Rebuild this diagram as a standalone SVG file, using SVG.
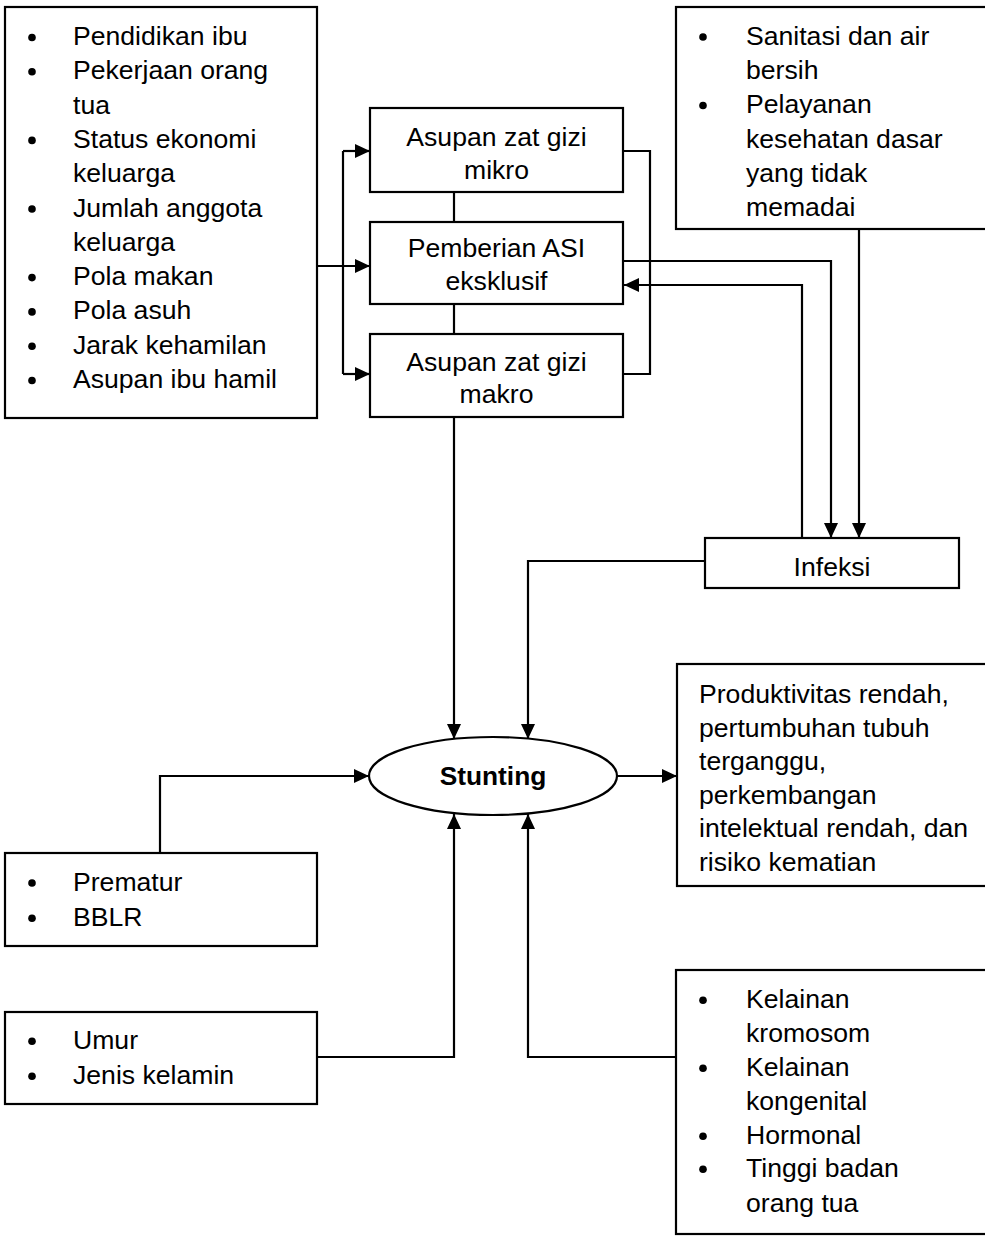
<svg xmlns="http://www.w3.org/2000/svg" width="985" height="1236" viewBox="0 0 985 1236">
<style>
.box{fill:#fff;stroke:#000;stroke-width:2.2}
.t{font-family:"Liberation Sans",Arial,sans-serif;font-size:26.6px;fill:#000}
.c{text-anchor:middle}
.b{font-weight:bold;font-size:26.3px}
.con{fill:none;stroke:#000;stroke-width:2.2}
.dot{fill:#000}
</style>
<defs>
<marker id="arr" viewBox="0 0 15 14" refX="15" refY="7" markerWidth="15" markerHeight="14" markerUnits="userSpaceOnUse" orient="auto">
<path d="M0,0 L15,7 L0,14 z" fill="#000"/>
</marker>
</defs>
<rect width="985" height="1236" fill="#fff"/>

<g id="connectors">
<path class="con" d="M317,266 L370,266" marker-end="url(#arr)"/>
<path class="con" d="M343,151 L343,374"/>
<path class="con" d="M343,151 L370,151" marker-end="url(#arr)"/>
<path class="con" d="M343,374 L370,374" marker-end="url(#arr)"/>
<path class="con" d="M454,192 L454,222"/>
<path class="con" d="M454,304 L454,334"/>
<path class="con" d="M623,151 L650,151 L650,374 L623,374"/>
<path class="con" d="M623,261 L831,261 L831,538" marker-end="url(#arr)"/>
<path class="con" d="M802,538 L802,285 L624,285" marker-end="url(#arr)"/>
<path class="con" d="M859,229 L859,538" marker-end="url(#arr)"/>
<path class="con" d="M454,417 L454,739" marker-end="url(#arr)"/>
<path class="con" d="M705,561 L528,561 L528,739" marker-end="url(#arr)"/>
<path class="con" d="M160,853 L160,776 L369,776" marker-end="url(#arr)"/>
<path class="con" d="M317,1057 L454,1057 L454,814" marker-end="url(#arr)"/>
<path class="con" d="M677,1057 L528,1057 L528,814" marker-end="url(#arr)"/>
<path class="con" d="M617,776 L677,776" marker-end="url(#arr)"/>
</g>

<g id="faktor-keluarga">
<rect class="box" x="5" y="7" width="312" height="411"/>
<circle class="dot" cx="32" cy="37.5" r="3.8"/>
<circle class="dot" cx="32" cy="71.8" r="3.8"/>
<circle class="dot" cx="32" cy="140.4" r="3.8"/>
<circle class="dot" cx="32" cy="209" r="3.8"/>
<circle class="dot" cx="32" cy="277.6" r="3.8"/>
<circle class="dot" cx="32" cy="311.9" r="3.8"/>
<circle class="dot" cx="32" cy="346.2" r="3.8"/>
<circle class="dot" cx="32" cy="380.5" r="3.8"/>
<text class="t" x="73" y="45">Pendidikan ibu</text>
<text class="t" x="73" y="79.3">Pekerjaan orang</text>
<text class="t" x="73" y="113.6">tua</text>
<text class="t" x="73" y="147.9">Status ekonomi</text>
<text class="t" x="73" y="182.2">keluarga</text>
<text class="t" x="73" y="216.5">Jumlah anggota</text>
<text class="t" x="73" y="250.8">keluarga</text>
<text class="t" x="73" y="285.1">Pola makan</text>
<text class="t" x="73" y="319.4">Pola asuh</text>
<text class="t" x="73" y="353.7">Jarak kehamilan</text>
<text class="t" x="73" y="388">Asupan ibu hamil</text>
</g>

<g id="gizi-mikro">
<rect class="box" x="370" y="108" width="253" height="84"/>
<text class="t c" x="496.5" y="145.7">Asupan zat gizi</text>
<text class="t c" x="496.5" y="178.5">mikro</text>
</g>

<g id="asi-eksklusif">
<rect class="box" x="370" y="222" width="253" height="82"/>
<text class="t c" x="496.5" y="256.7">Pemberian ASI</text>
<text class="t c" x="496.5" y="290">eksklusif</text>
</g>

<g id="gizi-makro">
<rect class="box" x="370" y="334" width="253" height="83"/>
<text class="t c" x="496.5" y="370.7">Asupan zat gizi</text>
<text class="t c" x="496.5" y="402.7">makro</text>
</g>

<g id="sanitasi">
<rect class="box" x="676" y="7" width="320" height="222"/>
<circle class="dot" cx="703" cy="37" r="3.8"/>
<circle class="dot" cx="703" cy="105.5" r="3.8"/>
<text class="t" x="746" y="45">Sanitasi dan air</text>
<text class="t" x="746" y="79.2">bersih</text>
<text class="t" x="746" y="113.4">Pelayanan</text>
<text class="t" x="746" y="147.6">kesehatan dasar</text>
<text class="t" x="746" y="181.8">yang tidak</text>
<text class="t" x="746" y="216">memadai</text>
</g>

<g id="infeksi">
<rect class="box" x="705" y="538" width="254" height="50"/>
<text class="t c" x="832" y="575.5">Infeksi</text>
</g>

<g id="stunting">
<ellipse class="box" cx="493" cy="776" rx="124" ry="39"/>
<text class="t c b" x="493" y="785">Stunting</text>
</g>

<g id="dampak">
<rect class="box" x="677" y="664" width="320" height="222"/>
<text class="t" x="699" y="703">Produktivitas rendah,</text>
<text class="t" x="699" y="736.5">pertumbuhan tubuh</text>
<text class="t" x="699" y="770">terganggu,</text>
<text class="t" x="699" y="803.5">perkembangan</text>
<text class="t" x="699" y="837">intelektual rendah, dan</text>
<text class="t" x="699" y="870.5">risiko kematian</text>
</g>

<g id="prematur">
<rect class="box" x="5" y="853" width="312" height="93"/>
<circle class="dot" cx="32" cy="883" r="3.8"/>
<circle class="dot" cx="32" cy="918.3" r="3.8"/>
<text class="t" x="73" y="890.7">Prematur</text>
<text class="t" x="73" y="926">BBLR</text>
</g>

<g id="umur">
<rect class="box" x="5" y="1012" width="312" height="92"/>
<circle class="dot" cx="32" cy="1041.3" r="3.8"/>
<circle class="dot" cx="32" cy="1076.3" r="3.8"/>
<text class="t" x="73" y="1049">Umur</text>
<text class="t" x="73" y="1084">Jenis kelamin</text>
</g>

<g id="genetik">
<rect class="box" x="676" y="970" width="320" height="264"/>
<circle class="dot" cx="703" cy="1000.3" r="3.8"/>
<circle class="dot" cx="703" cy="1068.3" r="3.8"/>
<circle class="dot" cx="703" cy="1136.3" r="3.8"/>
<circle class="dot" cx="703" cy="1169.3" r="3.8"/>
<text class="t" x="746" y="1008">Kelainan</text>
<text class="t" x="746" y="1042">kromosom</text>
<text class="t" x="746" y="1076">Kelainan</text>
<text class="t" x="746" y="1110">kongenital</text>
<text class="t" x="746" y="1144">Hormonal</text>
<text class="t" x="746" y="1177">Tinggi badan</text>
<text class="t" x="746" y="1211.5">orang tua</text>
</g>
</svg>
